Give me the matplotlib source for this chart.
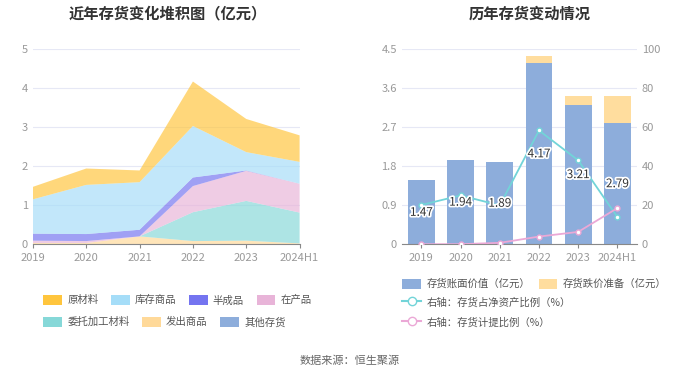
import matplotlib
matplotlib.use('Agg')
import matplotlib.pyplot as plt
from matplotlib.patches import Patch
from matplotlib.lines import Line2D
import matplotlib.patheffects as pe
import numpy as np

plt.rcParams['font.family'] = ['Noto Sans CJK SC', 'DejaVu Sans']

years = ['2019', '2020', '2021', '2022', '2023', '2024H1']

# 堆积图 (亿元)
other_inv = [0, 0, 0, 0, 0, 0]
goods_out = [0.03, 0.03, 0.20, 0.08, 0.09, 0.02]
outsourced = [0.00, 0.00, 0.00, 0.74, 1.02, 0.79]
wip = [0.06, 0.05, 0.00, 0.67, 0.77, 0.74]
semi = [0.18, 0.18, 0.17, 0.22, 0.01, 0.00]
stock_goods = [0.88, 1.26, 1.22, 1.32, 0.47, 0.56]
raw = [0.32, 0.42, 0.30, 1.14, 0.85, 0.68]

# 存货变动
book_value = [1.47, 1.94, 1.89, 4.17, 3.21, 2.79]
provision = [0.0, 0.0, 0.0, 0.18, 0.21, 0.63]
ratio_net = [20.1, 25.0, 19.9, 58.3, 43.0, 13.9]
ratio_prov = [0.0, 0.0, 0.7, 3.9, 6.3, 18.5]

c_raw, c_stock, c_semi, c_wip = '#FFC53D', '#A5DDF8', '#7474F0', '#E8B4D8'
c_out, c_goods, c_other = '#86D8D8', '#FFD999', '#8DADDB'
c_book, c_prov = '#8DADDB', '#FFDD9E'
c_line1, c_line2 = '#72D4D8', '#EBA8D6'
grid_c = '#E6E8F5'
tick_c = '#999999'

fig = plt.figure(figsize=(7, 3.78), dpi=100)

# ---- 左图 ----
ax1 = fig.add_axes([0.047, 0.354, 0.381, 0.516])
x = np.arange(len(years))
series = [other_inv, goods_out, outsourced, wip, semi, stock_goods, raw]
colors = [c_other, c_goods, c_out, c_wip, c_semi, c_stock, c_raw]
ax1.stackplot(x, *series, colors=colors, alpha=0.68, linewidth=0)
ax1.set_xlim(0, 5)
ax1.set_ylim(0, 5)
ax1.set_yticks(range(6))
ax1.set_xticks(x)
ax1.set_xticklabels(years)
ax1.grid(axis='y', color=grid_c, linewidth=0.8)
ax1.set_axisbelow(True)
for s in ['top', 'right', 'left']:
    ax1.spines[s].set_visible(False)
ax1.spines['bottom'].set_color('#888888')
ax1.tick_params(axis='y', length=0, colors=tick_c, labelsize=8)
ax1.tick_params(axis='x', length=3, color='#888888', colors=tick_c, labelsize=8)
fig.text(0.239, 0.965, '近年存货变化堆积图（亿元）', ha='center', va='center',
         fontsize=11, fontweight='bold', color='#333333')

# ---- 右图 ----
ax2 = fig.add_axes([0.574, 0.354, 0.336, 0.516])
ax2.bar(x, book_value, width=0.68, color=c_book, zorder=2)
ax2.bar(x, provision, width=0.68, bottom=book_value, color=c_prov, zorder=2)
ax2.set_xlim(-0.5, 5.5)
ax2.set_ylim(0, 4.5)
ax2.set_yticks([0, 0.9, 1.8, 2.7, 3.6, 4.5])
ax2.set_yticklabels(['0', '0.9', '1.8', '2.7', '3.6', '4.5'])
ax2.set_xticks(x)
ax2.set_xticklabels(years)
ax2.grid(axis='y', color=grid_c, linewidth=0.8)
ax2.set_axisbelow(True)
for s in ['top', 'right', 'left']:
    ax2.spines[s].set_visible(False)
ax2.spines['bottom'].set_color('#888888')
ax2.tick_params(axis='y', length=0, colors=tick_c, labelsize=8)
ax2.tick_params(axis='x', length=3, color='#888888', colors=tick_c, labelsize=8)

ax3 = ax2.twinx()
ax3.set_ylim(0, 100)
ax3.set_yticks(range(0, 101, 20))
for s in ax3.spines.values():
    s.set_visible(False)
ax3.tick_params(axis='y', length=0, colors=tick_c, labelsize=8)
ax3.plot(x, ratio_net, color=c_line1, lw=1.3, marker='o', ms=3.5,
         mfc='white', mec=c_line1, zorder=3)
ax3.plot(x, ratio_prov, color=c_line2, lw=1.3, marker='o', ms=3.5,
         mfc='white', mec=c_line2, zorder=3)

for i, v in enumerate(book_value):
    ax3.text(i, v / 2 / 4.5 * 100, f'{v:.2f}', ha='center', va='center',
             fontsize=8.5, color='#333333', zorder=5,
             path_effects=[pe.withStroke(linewidth=2.5, foreground='white')])

fig.text(0.757, 0.965, '历年存货变动情况', ha='center', va='center',
         fontsize=11, fontweight='bold', color='#333333')

# ---- 图例 ----
def patch(c):
    return Patch(facecolor=c, edgecolor='none')

leg_kw = dict(frameon=False, fontsize=7.5, handlelength=1.8, handleheight=1.1,
              handletextpad=0.5, columnspacing=1.2, labelcolor='#555555',
              borderaxespad=0, borderpad=0)
l1 = fig.legend([patch(c_raw), patch(c_stock), patch(c_semi), patch(c_wip)],
                ['原材料', '库存商品', '半成品', '在产品'], ncol=4,
                loc='center left', bbox_to_anchor=(0.062, 0.206), **leg_kw)
l2 = fig.legend([patch(c_out), patch(c_goods), patch(c_other)],
                ['委托加工材料', '发出商品', '其他存货'], ncol=3,
                loc='center left', bbox_to_anchor=(0.062, 0.148), **leg_kw)
l3 = fig.legend([patch(c_book), patch(c_prov)],
                ['存货账面价值（亿元）', '存货跌价准备（亿元）'], ncol=2,
                loc='center left', bbox_to_anchor=(0.575, 0.249),
                **{**leg_kw, 'columnspacing': 0.8})
l4 = fig.legend([Line2D([], [], color=c_line1, marker='o', ms=6, mfc='white', mec=c_line1)],
                ['右轴：存货占净资产比例（%）'],
                loc='center left', bbox_to_anchor=(0.575, 0.201), **leg_kw)
l5 = fig.legend([Line2D([], [], color=c_line2, marker='o', ms=6, mfc='white', mec=c_line2)],
                ['右轴：存货计提比例（%）'],
                loc='center left', bbox_to_anchor=(0.575, 0.148), **leg_kw)

fig.text(0.5, 0.045, '数据来源：恒生聚源', ha='center', va='center',
         fontsize=8, color='#666666')

fig.savefig('out.png', dpi=100)
